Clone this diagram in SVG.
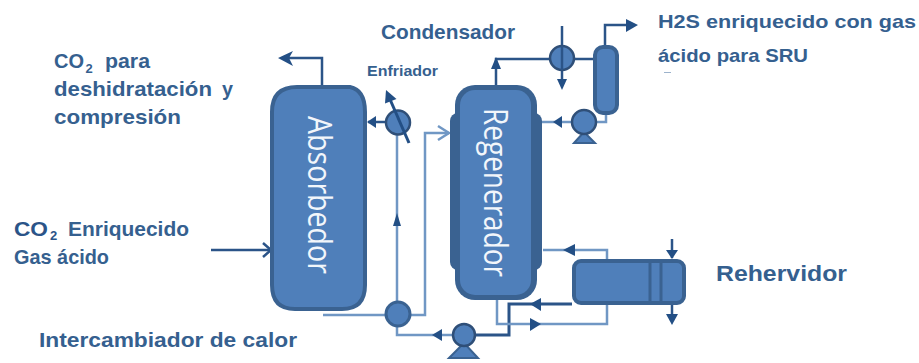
<svg xmlns="http://www.w3.org/2000/svg" width="919" height="363" viewBox="0 0 919 363">
<style>
.t{font-family:"Liberation Sans",Arial,sans-serif;font-weight:bold;fill:#35608f;font-size:21px}
.s{font-size:19px}
.m{font-size:15px}
.b{font-size:22px}
.o{font-size:13px}
.k{fill:#2b5488}
.c{font-family:"Open Sans","Liberation Sans",sans-serif;fill:#f2f6fb;font-size:32px}
.e{fill:#4f7fba;stroke:#3a6291;stroke-width:4}
.l{fill:none;stroke:#7097c4;stroke-width:2.500}
.d{fill:none;stroke:#2b5488;stroke-width:3}
.n{fill:none;stroke:#2b5488;stroke-width:2.500}
.h{fill:#234f85}
.r{fill:#4f7fba;stroke:#2f4f78;stroke-width:2.500}
.p{fill:#4f7fba;stroke:#3a6291;stroke-width:2}
.g{fill:#3a6291}
</style>
<g id="connectors">
<path class="n" d="M322 85V58H283"/><path class="h" d="M278 58L293 51L289 58L293 66Z"/>
<path class="n" d="M211 250H270"/><path class="n" d="M263 243L271 250L263 257"/>
<path class="n" d="M386 122H368"/><path class="h" d="M367 122L376 116V128Z"/>
<path class="l" d="M397 133V303"/>
<path class="h" d="M397 213L393 226H401Z"/>
<path class="l" d="M410 315H425V133H449"/><path class="l" d="M438 126L449 133L438 140"/>
<path class="l" d="M323 315H386"/>
<path class="l" d="M397 326V335H453"/><path class="h" d="M432 335L442 329V341Z"/>
<path class="d" d="M475 335H509V304H572"/><path class="h" d="M530 304L541 298V311Z"/>
<path class="l" d="M497 298V324H607V305"/><path class="h" d="M541 324L530 318V331Z"/>
<path class="l" d="M543 250H607V260"/><path class="h" d="M563 250L575 244V256Z"/>
<path class="n" d="M672 239V258"/><path class="h" d="M666 250H678L672 259Z"/>
<path class="n" d="M672 304V320"/><path class="h" d="M666 314H678L672 325Z"/>
<path class="n" d="M496 85V59H596"/><path class="h" d="M496 57L491 69H501Z"/>
<path class="n" d="M562 26V82"/><path class="h" d="M557 79H567L562 90Z"/>
<path class="n" d="M605 46V25H628"/><path class="h" d="M638 25L626 19V32Z"/>
<path class="l" d="M606 113V122H572"/>
<path class="l" d="M572 122H541"/><path class="h" d="M553 122L562 116V128Z"/>
</g>
<g id="absorbedor"><path class="e" d="M272 112Q272 87 297 87H350Q365 90 365 112V285Q365 309 342 309H295Q272 309 272 285Z"/><text class="c" transform="translate(308 116) rotate(90)" textLength="158" lengthAdjust="spacingAndGlyphs">Absorbedor</text></g>
<g id="regenerador"><rect class="g" x="455" y="85" width="82" height="215" rx="20"/><rect class="g" x="450" y="113" width="92" height="157" rx="8"/><rect x="460" y="90" width="71" height="205" rx="15" fill="#4f7fba"/><text class="c" transform="translate(484 108) rotate(90)" textLength="169" lengthAdjust="spacingAndGlyphs">Regenerador</text></g>
<g id="enfriador"><circle class="r" cx="398" cy="122.500" r="12"/><path d="M409 143L389 97" stroke="#234f85" stroke-width="3" fill="none"/><path class="h" d="M386 90L396.500 99L385 103.500Z"/></g>
<g id="condensador"><circle class="r" cx="562" cy="58" r="12"/><path d="M562 46V70" stroke="#2b5488" stroke-width="2.500"/></g>
<g id="acumulador"><rect class="e" x="595" y="47" width="22" height="66" rx="8"/></g>
<g id="bomba-superior"><path class="p" d="M574 143L584 132L595 143Z"/><circle class="r" cx="584" cy="122" r="12"/></g>
<g id="intercambiador"><circle cx="398" cy="314" r="12" fill="#4f7fba" stroke="#3a6291" stroke-width="3"/></g>
<g id="bomba-inferior"><path class="p" d="M449 358L464 343L478 358Z"/><circle class="r" cx="464" cy="335" r="11"/></g>
<g id="rehervidor"><rect class="e" x="574" y="261" width="110" height="42" rx="7"/><path d="M650 260V303M661 260V303" stroke="#3a6291" stroke-width="3"/></g>
<g id="labels">
<text class="t" x="54" y="68" textLength="30" lengthAdjust="spacingAndGlyphs">CO</text>
<text class="t o" x="85.500" y="73">2</text>
<text class="t" x="105" y="68" textLength="45" lengthAdjust="spacingAndGlyphs">para</text>
<text class="t" x="54" y="96" textLength="158" lengthAdjust="spacingAndGlyphs">deshidratación</text>
<text class="t" x="222" y="96" textLength="11" lengthAdjust="spacingAndGlyphs">y</text>
<text class="t" x="54" y="124" textLength="127" lengthAdjust="spacingAndGlyphs">compresión</text>
<text class="t" x="381" y="39" textLength="134" lengthAdjust="spacingAndGlyphs">Condensador</text>
<text class="t m" x="367" y="76" textLength="71" lengthAdjust="spacingAndGlyphs">Enfriador</text>
<text class="t s" x="658" y="28" textLength="258" lengthAdjust="spacingAndGlyphs">H2S enriquecido  con gas</text>
<text class="t s" x="658" y="62" textLength="150" lengthAdjust="spacingAndGlyphs">ácido para SRU</text>
<path d="M664 72.500H671" stroke="#9db3cc" stroke-width="1"/>
<text class="t k" x="14" y="236" textLength="34" lengthAdjust="spacingAndGlyphs">CO</text>
<text class="t k o" x="50" y="240">2</text>
<text class="t" x="68" y="236" textLength="121" lengthAdjust="spacingAndGlyphs">Enriquecido</text>
<text class="t" x="14" y="264" textLength="95" lengthAdjust="spacingAndGlyphs">Gas ácido</text>
<text class="t" x="39" y="347" textLength="258" lengthAdjust="spacingAndGlyphs">Intercambiador de calor</text>
<text class="t b" x="716" y="281" textLength="131" lengthAdjust="spacingAndGlyphs">Rehervidor</text>
</g>
</svg>
